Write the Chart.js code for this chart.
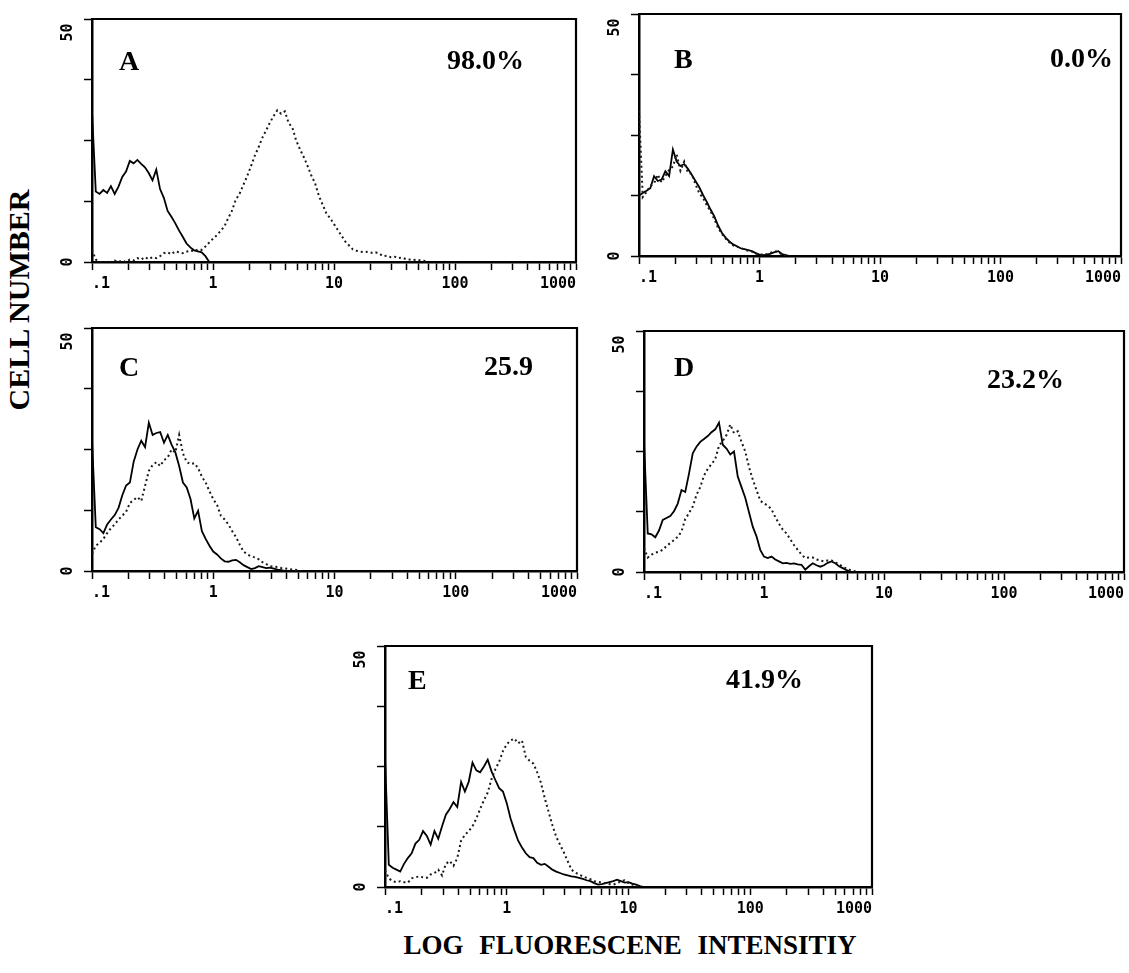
<!DOCTYPE html>
<html>
<head>
<meta charset="utf-8">
<title>Cell number vs log fluorescence</title>
<script src="https://cdn.jsdelivr.net/npm/chart.js@4/dist/chart.umd.min.js"></script>
<style>
  body { margin: 0; background: #fff; }
  #page { position: relative; width: 1129px; height: 973px; overflow: hidden; background: #fff; }
  .tag {
    position: absolute; color: #000; line-height: 1; white-space: nowrap;
    font: bold 28px "Liberation Serif", "Times New Roman", serif;
  }
  .axis-title {
    position: absolute; color: #000; line-height: 1; white-space: nowrap;
    font: bold 27px "Liberation Serif", "Times New Roman", serif;
  }
  #ytitle { left: 19px; top: 300px; font-size: 30px; transform: translate(-50%, -50%) rotate(-90deg); }
  #xtitle { left: 630px; top: 945px; transform: translate(-50%, -50%); word-spacing: 9px; }
</style>
</head>
<body>
<div id="page">
  <div class="axis-title" id="ytitle">CELL NUMBER</div>
  <div class="axis-title" id="xtitle">LOG FLUORESCENE INTENSITIY</div>
</div>

<script>
// ── Histogram counts ──────────────────────────────────────
// one value per channel, 32 channels per decade, first channel at 0.1
const BINS_PER_DECADE = 32;

const aSolid = [31, 14.5, 14.0, 14.8, 14.2, 15.6, 14.0, 15.5, 17.5, 18.6, 20.8, 20.3, 21.0, 20.2, 19.5, 18.3,
  16.8, 19.0, 15.0, 13.2, 10.5, 9.3, 8.0, 6.5, 5.2, 3.8, 3.0, 2.4, 2.2, 2.0, 1.2, 0];
const aDotted = [2.5, 0.5, 0, 0, 0, 0, 0.3, 0, 0.3, 0, 0.5, 0.3, 0.8, 0.5, 1.0, 0.6,
  1.0, 0.8, 1.2, 1.8, 2.0, 1.6, 2.2, 2.0, 1.8, 2.1, 2.4, 2.2, 2.6, 2.5, 3.2, 4.0,
  4.8, 5.5, 6.4, 7.3, 9.0, 10.5, 12.8, 14.0, 15.8, 17.6, 19.6, 21.8, 23.5, 25.5, 27.0, 28.6,
  30.0, 31.2, 30.5, 31.0, 28.6, 27.6, 25.0, 23.2, 21.6, 19.8, 17.8, 16.2, 13.6, 11.8, 10.0, 9.0,
  7.8, 6.6, 5.4, 4.2, 3.4, 2.6, 2.3, 2.1, 2.0, 2.1, 1.9, 2.0, 1.7, 1.2, 1.3, 1.0,
  1.1, 0.8, 0.9, 0.6, 0.5, 0.4, 0.5, 0.3, 0.2, 0];

const bSolid = [12.5, 13.0, 13.5, 14.0, 16.5, 15.5, 15.8, 17.5, 16.5, 22.0, 19.5, 18.6, 19.0, 18.0, 16.8, 15.5,
  14.2, 12.6, 11.2, 9.6, 8.2, 6.3, 4.8, 3.8, 3.0, 2.4, 2.0, 1.6, 1.4, 1.2, 1.0, 0.6,
  0.3, 0.2, 0.3, 0.5, 0.8, 1.0, 0.4, 0.2, 0];
const bDotted = [30, 12.2, 13.2, 14.5, 15.0, 16.8, 15.2, 16.5, 17.8, 18.5, 21.0, 17.6, 19.5, 17.2, 17.0, 14.8,
  13.0, 12.0, 10.5, 9.2, 7.6, 5.8, 4.6, 3.6, 2.8, 2.2, 1.9, 1.7, 1.3, 1.1, 0.9, 0.5,
  0.3, 0.3, 0.4, 0.7, 1.0, 0.8, 0.3, 0.1, 0];

const cSolid = [27, 9.0, 8.6, 7.8, 9.6, 10.6, 11.5, 13.0, 15.6, 17.6, 18.2, 22.5, 25.0, 26.8, 25.5, 30.5,
  28.0, 28.4, 28.6, 26.4, 28.0, 26.0, 24.4, 21.6, 18.2, 17.2, 14.8, 10.8, 12.4, 8.2, 6.6, 5.2,
  4.0, 3.4, 2.6, 2.0, 1.9, 2.2, 2.3, 1.8, 1.2, 0.8, 0.4, 0.6, 1.0, 0.8, 0.6, 0.7,
  0.5, 0.3, 0.2, 0];
const cDotted = [3.5, 5.2, 5.8, 6.6, 7.8, 8.8, 9.6, 10.6, 11.4, 12.2, 14.0, 14.6, 15.2, 14.4, 17.5, 20.6,
  21.8, 22.4, 21.6, 22.8, 23.4, 25.0, 24.4, 28.0, 24.2, 22.4, 22.0, 22.2, 21.2, 19.4, 18.2, 16.4,
  14.8, 13.6, 11.4, 10.6, 9.6, 8.2, 7.0, 5.4, 4.0, 3.4, 3.0, 2.8, 2.4, 1.8, 1.4, 1.0,
  0.9, 0.8, 0.6, 0.5, 0.4, 0.3, 0.2, 0];

const dSolid = [27, 8.0, 7.8, 7.2, 8.6, 10.8, 11.2, 11.6, 12.6, 14.2, 17.0, 16.6, 20.4, 24.6, 26.0, 27.0,
  27.6, 28.2, 29.0, 29.6, 31.0, 26.4, 25.6, 24.4, 25.0, 19.8, 17.6, 15.4, 12.4, 9.4, 7.4, 4.6,
  3.2, 2.9, 3.2, 2.6, 2.2, 1.8, 1.9, 1.7, 1.8, 1.6, 1.5, 0.5, 1.2, 1.8, 1.4, 1.1,
  1.4, 1.9, 2.2, 1.8, 1.2, 0.8, 0.4, 0.1, 0];
const dDotted = [5.0, 3.0, 3.6, 4.0, 4.2, 4.6, 5.4, 6.0, 6.6, 7.3, 8.4, 11.0, 12.2, 13.6, 16.0, 17.6,
  20.0, 21.4, 22.4, 23.4, 26.2, 27.2, 28.4, 30.6, 28.8, 29.2, 27.0, 25.0, 21.8, 19.2, 17.0, 14.8,
  14.2, 13.8, 13.0, 11.4, 10.0, 8.8, 8.0, 6.8, 5.6, 4.6, 3.6, 2.9, 3.0, 3.0, 2.6, 2.4,
  2.2, 2.4, 2.4, 2.0, 1.6, 1.1, 0.7, 0.4, 0.2, 0];

const eSolid = [27, 4.6, 4.0, 3.6, 3.2, 4.8, 6.0, 7.0, 9.0, 9.8, 11.6, 10.6, 8.8, 11.6, 10.0, 12.6,
  15.0, 16.2, 17.6, 16.6, 21.8, 19.8, 21.8, 25.8, 24.2, 23.8, 25.0, 26.4, 24.0, 22.2, 20.5, 19.8,
  17.4, 14.2, 11.8, 9.6, 8.2, 7.0, 6.2, 6.0, 5.0, 4.6, 4.8, 4.2, 3.6, 3.2, 2.9, 2.6,
  2.4, 2.2, 2.1, 1.9, 1.7, 1.4, 1.2, 0.8, 0.5, 0.6, 0.8, 1.0, 1.2, 1.5, 1.2, 0.9,
  1.0, 0.7, 0.5, 0.2, 0];
const eDotted = [3.5, 1.8, 1.2, 1.0, 1.2, 1.0, 0.9, 1.8, 2.0, 2.2, 2.0, 1.9, 2.6, 2.9, 3.6, 2.4,
  4.8, 5.4, 4.4, 6.0, 9.6, 10.8, 11.6, 12.6, 14.2, 16.2, 18.0, 19.6, 22.4, 24.4, 26.0, 28.2,
  29.6, 30.4, 30.8, 29.8, 30.4, 27.0, 26.2, 25.6, 23.8, 21.6, 18.4, 15.6, 12.8, 10.4, 8.8, 7.2,
  5.4, 3.6, 3.0, 2.6, 2.2, 1.9, 1.6, 1.2, 1.1, 0.9, 0.8, 0.6, 0.5, 0.8, 1.2, 1.4,
  0.8, 0.5, 0.2, 0];

const panelTags = ['A', 'B', 'C', 'D', 'E'];
const panelPercents = ['98.0%', '0.0%', '25.9', '23.2%', '41.9%'];
const panelSolid = [aSolid, bSolid, cSolid, dSolid, eSolid];
const panelDotted = [aDotted, bDotted, cDotted, dDotted, eDotted];

// ── Axis ticks ────────────────────────────────────────────
const xDecades = [0.1, 1, 10, 100, 1000];
const xDecadeLabels = ['.1', '1', '10', '100', '1000'];
const xMinorSteps = [1, 2, 3, 4, 5, 6, 7, 8, 9];
const yTicks = [0, 12.5, 25, 37.5, 50];
const yTickLabels = { 0: '0', 50: '50   ' };   // trailing pad keeps the top label inside the frame

// ── Layout (page pixels) ──────────────────────────────────
// plot area [left, top, right, bottom], panel letter and percentage positions
const panelBoxes = [
  { area: [92, 19, 576, 262],    tagAt: [119, 45],  pctAt: [447, 44] },
  { area: [639, 14, 1121, 256],  tagAt: [674, 43],  pctAt: [1050, 42] },
  { area: [92, 328, 577, 571],   tagAt: [119, 351], pctAt: [484, 350] },
  { area: [644, 331, 1124, 572], tagAt: [674, 351], pctAt: [987, 363] },
  { area: [385, 646, 872, 887],  tagAt: [408, 664], pctAt: [726, 663] },
];
const Y_AXIS_W = 44, X_AXIS_H = 40, PAD_TOP = 16, PAD_RIGHT = 12;
const TICK_FONT = { family: 'DejaVu Sans Mono', size: 15, weight: 'bold' };

// ── Helpers ───────────────────────────────────────────────
const xTickValues = xDecades.slice(0, -1)
  .flatMap(d => xMinorSteps.map(s => d * s))
  .concat(xDecades[xDecades.length - 1]);

const histogram = counts =>
  counts.map((y, k) => ({ x: 0.1 * Math.pow(10, k / BINS_PER_DECADE), y }));

// top and right edges of the box (left/bottom come from the axes)
const framePlugin = {
  id: 'frame',
  afterDraw(chart) {
    const { ctx, chartArea: a } = chart;
    ctx.save();
    ctx.strokeStyle = '#000';
    ctx.lineWidth = 2.2;
    ctx.beginPath();
    ctx.moveTo(a.left, a.top);
    ctx.lineTo(a.right, a.top);
    ctx.lineTo(a.right, a.bottom);
    ctx.stroke();
    ctx.restore();
  }
};

function chartConfig(i) {
  return {
    type: 'line',
    data: {
      datasets: [
        {
          data: histogram(panelDotted[i]),
          borderColor: '#1a1a1a',
          borderWidth: 2,
          borderDash: [2, 3],
          pointRadius: 0,
          tension: 0,
        },
        {
          data: histogram(panelSolid[i]),
          borderColor: '#000',
          borderWidth: 1.8,
          pointRadius: 0,
          tension: 0,
        },
      ]
    },
    options: {
      responsive: false,
      animation: false,
      devicePixelRatio: 1,
      layout: { padding: { top: PAD_TOP, right: PAD_RIGHT, left: 0, bottom: 0 } },
      plugins: { legend: { display: false }, tooltip: { enabled: false } },
      scales: {
        x: {
          type: 'logarithmic',
          min: 0.1,
          max: 1000,
          afterBuildTicks: s => { s.ticks = xTickValues.map(v => ({ value: v })); },
          afterFit: s => { s.height = X_AXIS_H; },
          border: { color: '#000', width: 2.5 },
          grid: { drawOnChartArea: false, tickLength: 8, tickColor: '#000', tickWidth: 1.5 },
          ticks: {
            autoSkip: false,
            maxRotation: 0,
            align: 'inner',
            padding: 5,
            color: '#000',
            font: TICK_FONT,
            callback: v => {
              const idx = xDecades.indexOf(v);
              return idx >= 0 ? xDecadeLabels[idx] : '';
            }
          }
        },
        y: {
          min: 0,
          max: 50,
          afterBuildTicks: s => { s.ticks = yTicks.map(v => ({ value: v })); },
          afterFit: s => { s.width = Y_AXIS_W; },
          border: { color: '#000', width: 2.5 },
          grid: { drawOnChartArea: false, tickLength: 8, tickColor: '#000', tickWidth: 1.5 },
          ticks: {
            autoSkip: false,
            minRotation: 90,
            maxRotation: 90,
            crossAlign: 'center',
            padding: -7,
            color: '#000',
            font: TICK_FONT,
            callback: v => yTickLabels[v] ?? ''
          }
        }
      }
    },
    plugins: [framePlugin]
  };
}

function addText(text, [left, top]) {
  const el = document.createElement('div');
  el.className = 'tag';
  el.textContent = text;
  el.style.left = left + 'px';
  el.style.top = top + 'px';
  page.appendChild(el);
}

// ── Panels ────────────────────────────────────────────────
const page = document.getElementById('page');

panelBoxes.forEach((box, i) => {
  const [l, t, r, b] = box.area;
  const w = r - l + Y_AXIS_W + PAD_RIGHT;
  const h = b - t + PAD_TOP + X_AXIS_H;
  const canvas = document.createElement('canvas');
  canvas.width = w;
  canvas.height = h;
  canvas.style.cssText = `position:absolute;left:${l - Y_AXIS_W}px;top:${t - PAD_TOP}px;width:${w}px;height:${h}px`;
  page.appendChild(canvas);
  new Chart(canvas, chartConfig(i));

  addText(panelTags[i], box.tagAt);
  addText(panelPercents[i], box.pctAt);
});
</script>
</body>
</html>
